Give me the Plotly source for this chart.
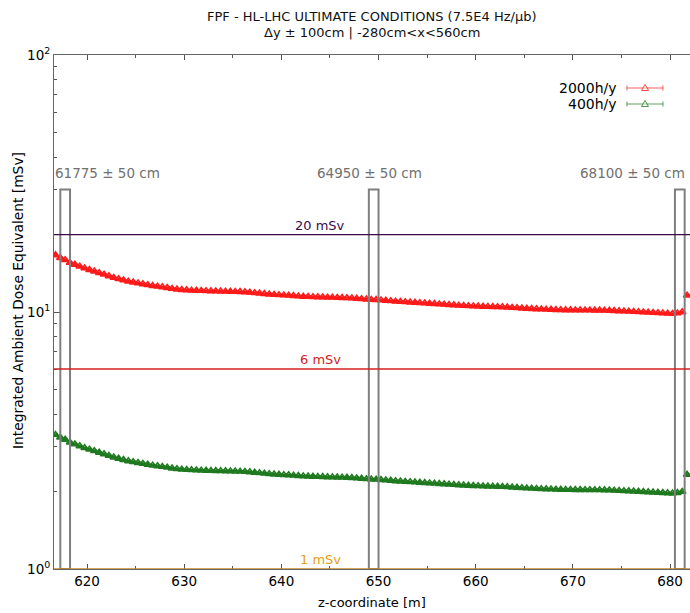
import math
import plotly.graph_objects as go

# ---- data -------------------------------------------------------------
# bin centres along the beam line [m] (0.5 m bins)
z_start = 616.75
z_step = 0.5

dose_2000h = [
    16.65, 16.25, 15.95, 15.55, 15.30, 15.05, 14.80, 14.60, 14.40, 14.20,
    14.00, 13.80, 13.60, 13.45, 13.30, 13.15, 13.05, 12.95, 12.85, 12.75,
    12.65, 12.58, 12.50, 12.42, 12.33, 12.26, 12.20, 12.17, 12.14, 12.12,
    12.10, 12.08, 12.06, 12.05, 12.04, 12.02, 12.01, 12.00, 11.98, 11.96,
    11.92, 11.87, 11.82, 11.77, 11.72, 11.68, 11.65, 11.62, 11.60, 11.56,
    11.52, 11.49, 11.47, 11.45, 11.43, 11.42, 11.40, 11.39, 11.37, 11.36,
    11.35, 11.32, 11.28, 11.24, 11.20, 11.17, 11.15, 11.12, 11.08, 11.04,
    11.00, 10.97, 10.94, 10.91, 10.88, 10.85, 10.82, 10.79, 10.76, 10.73,
    10.70, 10.67, 10.64, 10.61, 10.58, 10.56, 10.54, 10.52, 10.50, 10.49,
    10.48, 10.47, 10.45, 10.43, 10.40, 10.37, 10.34, 10.31, 10.29, 10.27,
    10.25, 10.23, 10.22, 10.20, 10.19, 10.18, 10.18, 10.17, 10.17, 10.16,
    10.16, 10.15, 10.15, 10.14, 10.13, 10.11, 10.09, 10.07, 10.05, 10.03,
    10.01, 9.99, 9.96, 9.94, 9.92, 9.90, 9.87, 9.85, 9.90, 10.00,
    11.60,
]

dose_400h = [
    3.330, 3.250, 3.190, 3.110, 3.060, 3.010, 2.960, 2.920, 2.880, 2.840,
    2.800, 2.760, 2.720, 2.690, 2.660, 2.630, 2.610, 2.590, 2.570, 2.550,
    2.530, 2.516, 2.500, 2.484, 2.466, 2.452, 2.440, 2.434, 2.428, 2.424,
    2.420, 2.416, 2.412, 2.410, 2.408, 2.404, 2.402, 2.400, 2.396, 2.392,
    2.384, 2.374, 2.364, 2.354, 2.344, 2.336, 2.330, 2.324, 2.320, 2.312,
    2.304, 2.298, 2.294, 2.290, 2.286, 2.284, 2.280, 2.278, 2.274, 2.272,
    2.270, 2.264, 2.256, 2.248, 2.240, 2.234, 2.230, 2.224, 2.216, 2.208,
    2.200, 2.194, 2.188, 2.182, 2.176, 2.170, 2.164, 2.158, 2.152, 2.146,
    2.140, 2.134, 2.128, 2.122, 2.116, 2.112, 2.108, 2.104, 2.100, 2.098,
    2.096, 2.094, 2.090, 2.086, 2.080, 2.074, 2.068, 2.062, 2.058, 2.054,
    2.050, 2.046, 2.044, 2.040, 2.038, 2.036, 2.036, 2.034, 2.034, 2.032,
    2.032, 2.030, 2.030, 2.028, 2.026, 2.022, 2.018, 2.014, 2.010, 2.006,
    2.002, 1.998, 1.992, 1.988, 1.984, 1.980, 1.974, 1.970, 1.980, 2.000,
    2.330,
]

series_names = ["2000h/y", "400h/y"]
series_colors = ["#ff1a1a", "#1f7a1f"]

# detector stations: centre [m], half width [m], label
station_z = [617.75, 649.50, 681.00]
station_halfwidth = 0.5
station_labels = ["61775 ± 50 cm", "64950 ± 50 cm", "68100 ± 50 cm"]
station_label_z = [622.15, 649.05, 676.10]
station_top = 30.0
station_label_y = 34.8

# dose reference limits
limit_values = [20.0, 6.0, 1.0]
limit_labels = ["20 mSv", "6 mSv", "1 mSv"]
limit_colors = ["#3c0a4c", "#d42020", "#e6a012"]
limit_line_colors = ["#3c0a4c", "#d42020", "#c8861a"]
limit_label_z = 644.0

x_range = [616.6, 682.05]
x_ticks = [620, 630, 640, 650, 660, 670, 680]
y_ticks = [1, 10, 100]
y_ticktext = ["10<sup>0</sup>", "10<sup>1</sup>", "10<sup>2</sup>"]

# ---- figure geometry (pixels) -----------------------------------------
W, H = 690, 613
L, R, T, B = 54, 0, 55, 44
PW, PH = W - L - R, H - T - B


def px(x):
    return (x - L) / PW


def py(y):
    return (H - B - y) / PH


z_bins = [z_start + i * z_step for i in range(len(dose_2000h))]
FONT = "DejaVu Sans"

fig = go.Figure()

# histogram-style points: triangle marker plus a horizontal bar over the bin width
for name, vals, col in zip(series_names, [dose_2000h, dose_400h], series_colors):
    fig.add_trace(go.Scatter(
        x=z_bins, y=vals, name=name, mode="markers",
        marker=dict(symbol="triangle-up-open", size=6.5, color=col,
                    line=dict(width=1.5, color=col)),
        error_x=dict(type="constant", value=z_step / 2, width=0,
                     thickness=3, color=col),
        showlegend=False, cliponaxis=True,
    ))

shapes = []
annotations = []

# station boxes and labels (annotation y on a log axis is given as log10)
for zc, lab, lz in zip(station_z, station_labels, station_label_z):
    shapes.append(dict(type="rect", xref="x", yref="y",
                       x0=zc - station_halfwidth, x1=zc + station_halfwidth,
                       y0=1, y1=station_top,
                       line=dict(color="#7f7f7f", width=2), layer="above"))
    annotations.append(dict(x=lz, y=math.log10(station_label_y), xref="x", yref="y",
                            yanchor="middle", text=lab, showarrow=False,
                            font=dict(family=FONT, size=13.5, color="#707070")))

# dose limits
for v, lab, c, lc in zip(limit_values, limit_labels, limit_colors, limit_line_colors):
    shapes.append(dict(type="line", xref="paper", yref="y", x0=0, x1=1,
                       y0=v, y1=v, line=dict(color=lc, width=1.3), layer="above"))
    annotations.append(dict(x=limit_label_z, y=math.log10(v), xref="x", yref="y",
                            yanchor="bottom", yshift=0, text=lab, showarrow=False,
                            font=dict(family=FONT, size=13, color=c)))

# hand-made legend: label, then line with bin caps and triangle marker
legend_rows_y = [88, 104]
for name, col, ry in zip(series_names, series_colors, legend_rows_y):
    annotations.append(dict(x=px(619), y=py(ry), xref="paper", yref="paper",
                            xanchor="right", yanchor="middle", text=name,
                            showarrow=False,
                            font=dict(family=FONT, size=14, color="#000000")))
    shapes.append(dict(type="line", xref="paper", yref="paper",
                       x0=px(627), x1=px(663), y0=py(ry), y1=py(ry),
                       line=dict(color=col, width=1), opacity=0.7))
    for cx in (627, 663):
        shapes.append(dict(type="line", xref="paper", yref="paper",
                           x0=px(cx), x1=px(cx), y0=py(ry - 2.5), y1=py(ry + 2.5),
                           line=dict(color=col, width=1), opacity=0.7))
    tri = "M {:.5f} {:.5f} L {:.5f} {:.5f} L {:.5f} {:.5f} Z".format(
        px(641.5), py(ry + 2.5), px(648.5), py(ry + 2.5), px(645), py(ry - 3.5))
    shapes.append(dict(type="path", xref="paper", yref="paper", path=tri,
                       line=dict(color=col, width=1), fillcolor="rgba(255,255,255,0.6)",
                       opacity=0.8))

# title and axis titles
annotations.append(dict(x=0.5, y=py(16), xref="paper", yref="paper",
                        yanchor="middle", showarrow=False,
                        text="FPF - HL-LHC ULTIMATE CONDITIONS (7.5E4 Hz/µb)",
                        font=dict(family=FONT, size=13, color="#111111")))
annotations.append(dict(x=0.5, y=py(33), xref="paper", yref="paper",
                        yanchor="middle", showarrow=False,
                        text="Δy ± 100cm | -280cm<x<560cm",
                        font=dict(family=FONT, size=13, color="#111111")))
annotations.append(dict(x=0.5, y=py(602), xref="paper", yref="paper",
                        yanchor="middle", showarrow=False,
                        text="z-coordinate [m]",
                        font=dict(family=FONT, size=13, color="#000000")))
annotations.append(dict(x=px(18), y=py(301), xref="paper", yref="paper",
                        xanchor="center", yanchor="middle", showarrow=False,
                        textangle=-90,
                        text="Integrated Ambient Dose Equivalent [mSv]",
                        font=dict(family=FONT, size=13.8, color="#000000")))

fig.update_layout(
    width=W, height=H,
    margin=dict(l=L, r=R, t=T, b=B, pad=0),
    plot_bgcolor="white", paper_bgcolor="white",
    font=dict(family=FONT, size=13, color="#000000"),
    shapes=shapes, annotations=annotations,
    showlegend=False,
)

fig.update_xaxes(
    range=x_range, tickvals=x_ticks, ticks="inside", ticklen=5,
    tickcolor="#555555", showline=True, linecolor="#666666", linewidth=1,
    mirror="ticks", showgrid=False, zeroline=False,
    tickfont=dict(family=FONT, size=13.5, color="#000000"),
    minor=dict(dtick=5, tick0=615, ticks="inside", ticklen=3, tickcolor="#555555"),
)
fig.update_yaxes(
    type="log", range=[0, 2], tickvals=y_ticks, ticktext=y_ticktext,
    ticks="inside", ticklen=6, tickcolor="#555555",
    showline=True, linecolor="#666666", linewidth=1, mirror=False,
    showgrid=False, zeroline=False,
    tickfont=dict(family=FONT, size=13.5, color="#000000"),
    minor=dict(tickvals=[2, 3, 4, 5, 6, 7, 8, 9, 20, 30, 40, 50, 60, 70, 80, 90],
               ticks="inside", ticklen=3, tickcolor="#555555"),
)

fig.write_html("out.html")
